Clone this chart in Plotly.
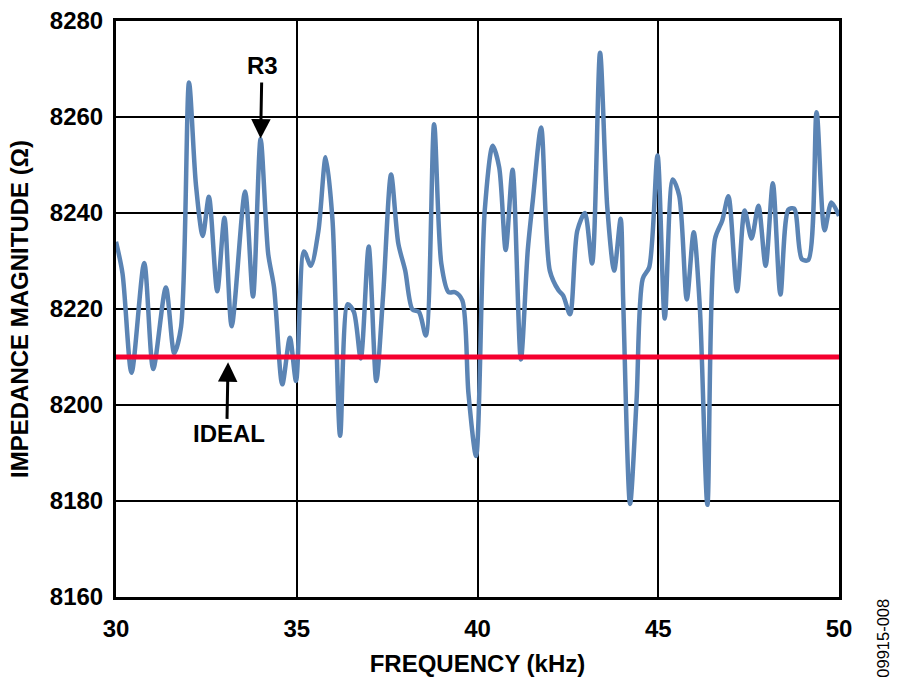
import plotly.graph_objects as go

freq = [30.0, 30.18, 30.43, 30.78, 31.03, 31.38, 31.61, 31.8, 32.02, 32.21, 32.4, 32.57, 32.8, 33.0, 33.2,
        33.57, 33.79, 34.0, 34.21, 34.37, 34.6, 34.81, 34.98, 35.2, 35.39, 35.6, 35.8, 35.99, 36.2, 36.41,
        36.58, 36.77, 36.99, 37.2, 37.39, 37.61, 37.81, 38.0, 38.2, 38.38, 38.57, 38.8, 39.0, 39.2, 39.38,
        39.58, 39.75, 39.96, 40.2, 40.42, 40.6, 40.78, 40.97, 41.2, 41.39, 41.53, 41.76, 42.0, 42.24, 42.37,
        42.56, 42.76, 42.97, 43.17, 43.39, 43.59, 43.78, 43.96, 44.03, 44.22, 44.4, 44.57, 44.75, 44.98, 45.18,
        45.4, 45.58, 45.79, 45.98, 46.15, 46.36, 46.57, 46.77, 46.94, 47.18, 47.39, 47.58, 47.77, 47.97, 48.17,
        48.38, 48.6, 48.76, 48.97, 49.15, 49.38, 49.6, 49.79, 50.0]
r3 = [8234, 8227.4, 8206.7, 8229.6, 8207.5, 8224.5, 8210.8, 8216.3, 8267.2, 8246, 8235.2, 8243.4, 8223.7, 8239, 8216.4,
      8244.5, 8222.6, 8255.4, 8231.5, 8224.6, 8204.3, 8214, 8205, 8232, 8229, 8236.3, 8251.6, 8238.4, 8193.6, 8221,
      8219.4, 8209.7, 8233, 8205, 8223, 8248, 8233.6, 8228, 8219.9, 8219.4, 8214.5, 8258.5, 8229.4, 8223.5, 8223.5,
      8221.8, 8202.4, 8189.4, 8240.5, 8254, 8249.5, 8232.3, 8249, 8209.5, 8232.2, 8242.6, 8257.8, 8228, 8223.9, 8222.8,
      8218.9, 8236.3, 8240, 8229.5, 8273.4, 8241.2, 8228, 8238.8, 8221.8, 8179.4, 8201, 8226.3, 8228.7, 8252, 8218,
      8247, 8243.6, 8222, 8236, 8220.4, 8179.2, 8234.6, 8238.4, 8243.5, 8223.7, 8240.5, 8234.7, 8241.5, 8229, 8246.2,
      8223, 8240.7, 8240.9, 8230.4, 8230.2, 8261, 8236.4, 8242.2, 8239.4]
ideal_x = [30, 50]
ideal_y = [8210, 8210]

FONT = "Liberation Sans"
bold = dict(family=FONT, size=24, color="black", weight="bold")

fig = go.Figure()
fig.add_trace(go.Scatter(x=freq, y=r3, mode="lines", name="R3",
                         line=dict(color="#5b84b4", width=4.5, shape="spline", smoothing=0.8)))
fig.add_trace(go.Scatter(x=ideal_x, y=ideal_y, mode="lines", name="IDEAL",
                         line=dict(color="#f5002f", width=5)))

fig.add_annotation(x=34.0, y=8255.5, ax=34.03, ay=8267.5, axref="x", ayref="y", text="", showarrow=True,
                   arrowhead=2, arrowsize=1.3, arrowwidth=3, arrowcolor="black")
fig.add_annotation(x=33.1, y=8208.9, ax=33.07, ay=8196.8, axref="x", ayref="y", text="", showarrow=True,
                   arrowhead=2, arrowsize=1.3, arrowwidth=3, arrowcolor="black")
fig.add_annotation(x=34.06, y=8270.8, text="R3", showarrow=False, font=bold)
fig.add_annotation(x=33.13, y=8194, text="IDEAL", showarrow=False, font=bold)
fig.add_annotation(xref="paper", yref="paper", x=1.075, y=0.0, text="09915-008", textangle=-90, showarrow=False,
                   yanchor="top", font=dict(family=FONT, size=16.5, color="black"))

axis_style = dict(showline=True, linecolor="black", linewidth=3, mirror=True, showgrid=True, automargin=False,
                  gridcolor="black", gridwidth=2, zeroline=False, ticks="", tickfont=bold)
fig.update_xaxes(range=[30, 50], tickvals=[30, 35, 40, 45, 50], tickformat="d", ticklabelstandoff=8,
                 title=dict(text="FREQUENCY (kHz)", font=bold, standoff=15), **axis_style)
fig.update_yaxes(range=[8160, 8280], tickvals=list(range(8160, 8281, 20)), tickformat="d", ticklabelstandoff=5,
                 title=dict(text="IMPEDANCE MAGNITUDE (Ω)", font=bold, standoff=15), **axis_style)
fig.update_layout(width=900, height=686, showlegend=False, plot_bgcolor="white", paper_bgcolor="white",
                  margin=dict(l=116, r=61, t=20.5, b=89),
                  font=dict(family=FONT, color="black", size=24))

fig.write_html("out.html", config={"displayModeBar": False},
               post_script="document.body.style.margin='0';window.dispatchEvent(new Event('resize'));")
